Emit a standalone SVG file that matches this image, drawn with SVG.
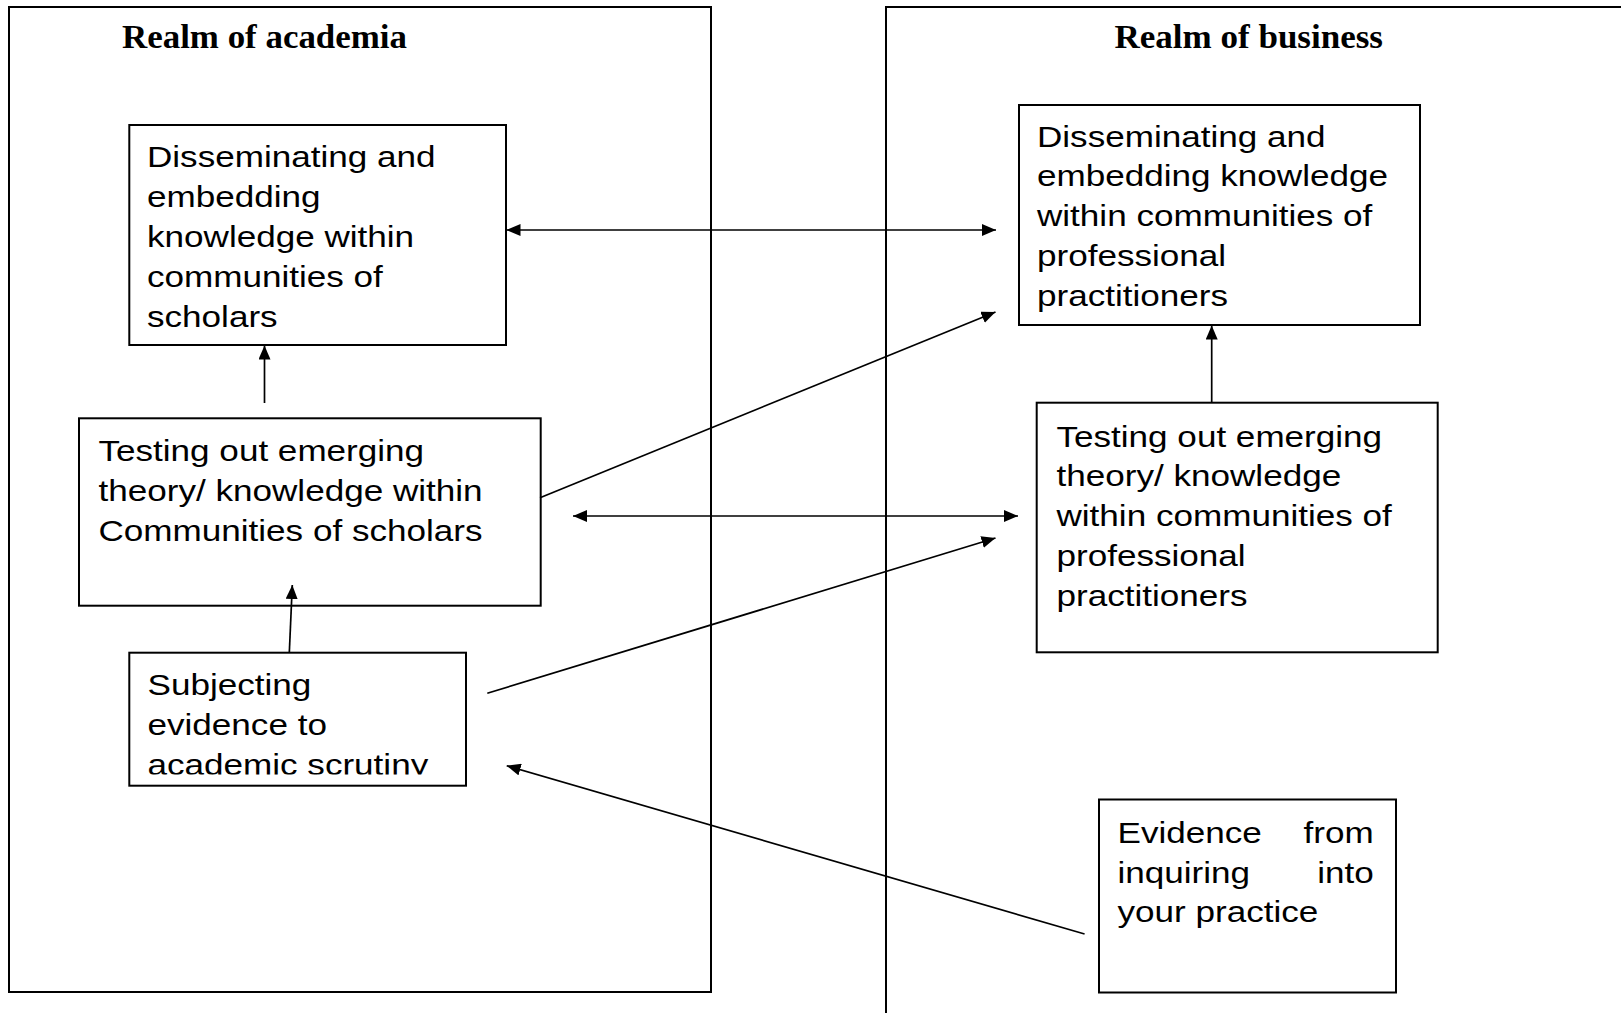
<svg xmlns="http://www.w3.org/2000/svg" width="1621" height="1013" viewBox="0 0 1621 1013">
<style>
.frame{fill:none;stroke:#000;stroke-width:2}
.box{fill:#fff;stroke:#000;stroke-width:2}
.title{font-family:"Liberation Serif","Times New Roman",serif;font-weight:bold;font-size:33px;fill:#000}
.t{font-family:"Liberation Sans",Arial,Helvetica,sans-serif;font-size:30px;fill:#000}
.con{fill:none;stroke:#000;stroke-width:1.7}
</style>
<defs>
<marker id="ah" markerUnits="userSpaceOnUse" markerWidth="14" markerHeight="12" refX="14" refY="6" orient="auto-start-reverse">
<path d="M0,0 L14,6 L0,12 z" fill="#000"/>
</marker>
<clipPath id="clipC"><rect x="128" y="652" width="340" height="122.5"/></clipPath>
</defs>
<rect x="0" y="0" width="1621" height="1013" fill="#fff"/>

<g id="realm-academia">
<rect class="frame" x="9" y="7" width="702" height="985"/>
<text class="title" x="122" y="48.3" textLength="285" lengthAdjust="spacingAndGlyphs">Realm of academia</text>
</g>
<g id="realm-business">
<path class="frame" d="M886,1020 V7 H1630"/>
<text class="title" x="1114.5" y="48.3" textLength="268.5" lengthAdjust="spacingAndGlyphs">Realm of business</text>
</g>

<g id="node-disseminating-academia">
<rect class="box" x="129.3" y="125" width="376.7" height="220"/>
<text class="t" transform="translate(147,166.7) scale(1.17,1)"><tspan x="0" dy="0">Disseminating and</tspan><tspan x="0" dy="40">embedding</tspan><tspan x="0" dy="40">knowledge within</tspan><tspan x="0" dy="40">communities of</tspan><tspan x="0" dy="40.3">scholars</tspan></text>
</g>

<g id="node-testing-academia">
<rect class="box" x="79" y="418.3" width="461.7" height="187.4"/>
<text class="t" transform="translate(98.5,460.7) scale(1.17,1)"><tspan x="0" dy="0">Testing out emerging</tspan><tspan x="0" dy="40">theory/ knowledge within</tspan><tspan x="0" dy="40.6">Communities of scholars</tspan></text>
</g>

<g id="node-subjecting">
<rect class="box" x="129.3" y="652.7" width="336.7" height="133"/>
<g clip-path="url(#clipC)">
<text class="t" transform="translate(147.5,695) scale(1.17,1)"><tspan x="0" dy="0">Subjecting</tspan><tspan x="0" dy="40">evidence to</tspan><tspan x="0" dy="40">academic scrutiny</tspan></text>
</g>
</g>

<g id="node-disseminating-business">
<rect class="box" x="1019" y="105" width="401" height="220"/>
<text class="t" transform="translate(1037,146.7) scale(1.17,1)"><tspan x="0" dy="0">Disseminating and</tspan><tspan x="0" dy="39.5">embedding knowledge</tspan><tspan x="0" dy="40">within communities of</tspan><tspan x="0" dy="40">professional</tspan><tspan x="0" dy="40">practitioners</tspan></text>
</g>

<g id="node-testing-business">
<rect class="box" x="1036.7" y="402.7" width="401" height="249.6"/>
<text class="t" transform="translate(1056.5,446.7) scale(1.17,1)"><tspan x="0" dy="0">Testing out emerging</tspan><tspan x="0" dy="39.5">theory/ knowledge</tspan><tspan x="0" dy="39.5">within communities of</tspan><tspan x="0" dy="40">professional</tspan><tspan x="0" dy="40.5">practitioners</tspan></text>
</g>

<g id="node-evidence">
<rect class="box" x="1099" y="799.5" width="297" height="193"/>
<text class="t" transform="translate(1117.5,842.7) scale(1.17,1)"><tspan x="0" y="0">Evidence</tspan><tspan x="219" y="0" text-anchor="end">from</tspan><tspan x="0" y="40">inquiring</tspan><tspan x="219" y="40" text-anchor="end">into</tspan><tspan x="0" y="79">your practice</tspan></text>
</g>

<g id="connectors">
<path class="con" d="M506.5,230 H996" marker-start="url(#ah)" marker-end="url(#ah)"/>
<path class="con" d="M540,497.7 L995.5,312" marker-end="url(#ah)"/>
<path class="con" d="M573,516 H1018" marker-start="url(#ah)" marker-end="url(#ah)"/>
<path class="con" d="M487.3,693.3 L995.5,538" marker-end="url(#ah)"/>
<path class="con" d="M1084.6,934 L506.7,765.7" marker-end="url(#ah)"/>
<path class="con" d="M264.5,403 V345.5" marker-end="url(#ah)"/>
<path class="con" d="M289.3,652.7 L292.3,585" marker-end="url(#ah)"/>
<path class="con" d="M1211.7,402 V325.5" marker-end="url(#ah)"/>
</g>
</svg>
